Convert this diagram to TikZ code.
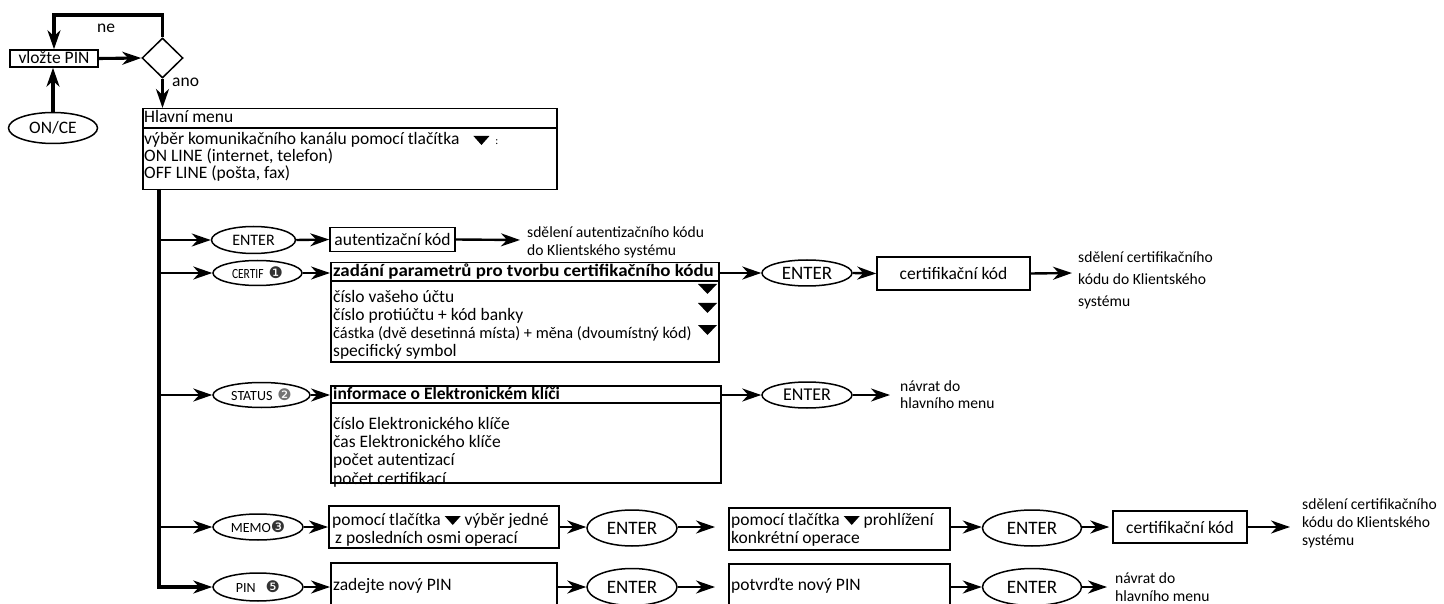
\documentclass[tikz,border=0pt]{standalone}
\usepackage{fontspec}
\setmainfont{Carlito}
\newfontfamily\symf{DejaVu Sans}
\usetikzlibrary{arrows.meta,shapes.geometric}
\newcommand\trid{\tikz[baseline=0pt,x=1pt,y=1pt]\fill (0,9) -- (16,9) -- (8,0) -- cycle;}
\newcommand\numc[2]{{\symf\fontsize{16}{16}\selectfont\color{black!#1}#2}}
\begin{document}
\begin{tikzpicture}[x=1pt,y=-1pt,
  box/.style={draw,line width=1.5pt,rectangle,inner sep=0pt,font=\fontsize{17.5}{18}\selectfont},
  oval/.style={draw,line width=1.5pt,ellipse,inner sep=0pt},
  arr/.style={line width=2.4pt,-{Stealth[length=19pt,width=13pt,inset=6pt]}},
  tarr/.style={arr,line width=3.1pt},
  txt/.style={anchor=base west,inner sep=0pt,font=\fontsize{17.5}{18}\selectfont},
  btxt/.style={anchor=base west,inner sep=0pt,font=\fontsize{17.5}{18}\selectfont\bfseries},
  note/.style={anchor=base west,inner sep=0pt,font=\fontsize{15.6}{16}\selectfont},
  lbl/.style={oval,font=\fontsize{14}{15}\selectfont},
  ent/.style={oval,font=\fontsize{19}{19}\selectfont}
]
\clip (0,0) rectangle (1444,604);
% ---------- top ----------
\node[box,minimum width=88,minimum height=17,text height=11pt,text depth=1pt] (pin) at (54,58.5) {vložte PIN};
\node[draw,diamond,line width=1.5pt,minimum width=41,minimum height=40,inner sep=0pt] (dec) at (162.5,58) {};
\node[oval,minimum width=89,minimum height=31,font=\fontsize{17.5}{18}\selectfont] (once) at (53,128) {ON/CE};
\coordinate (loop) at (162.5,15);
\draw[tarr] (pin.east) -- (dec.west);
\draw[tarr] (dec.north) -- (loop) -| (pin.north);
\draw[tarr] (once.north) -- (once.north |- pin.south);
\node[txt] (ne) at (97,33) {ne};
\node[txt] (ano) at (172,87) {ano};
% ---------- main menu ----------
\node[box,minimum width=414,minimum height=81,anchor=north west] (menu) at (142,108) {};
\draw[line width=1.5pt] (142,128) -- (556,128);
\draw[tarr] (dec.south) -- (dec.south |- menu.north);
\node[txt] (m0) at (144,123) {Hlavní menu};
\node[txt] (m1) at (144,145) {výběr komunikačního kanálu pomocí tlačítka\hspace{14pt}\trid\hspace{6pt}{\fontsize{11}{11}\selectfont :}};
\node[txt] (m2) at (144,162) {ON LINE (internet, telefon)};
\node[txt] (m3) at (144,179) {OFF LINE (pošta, fax)};
% ---------- trunk ----------
\coordinate (ttop) at (159,189);
\coordinate (b1) at (159,240);
\coordinate (b2) at (159,273);
\coordinate (b3) at (159,395);
\coordinate (b4) at (159,527);
% ---------- row 1 ----------
\node[oval,minimum width=84,minimum height=27,font=\fontsize{16}{16}\selectfont] (e1) at (253.5,240) {ENTER};
\node[box,minimum width=125,minimum height=24] (auth) at (392.5,239.5) {autentizační kód};
\coordinate (n1) at (520,240);
\draw[arr] (b1) -- (e1.west);
\draw[arr] (e1.east) -- (auth.west);
\draw[arr] (auth.east) -- (n1);
\node[note] (t1a) at (527,238) {sdělení autentizačního kódu};
\node[note] (t1b) at (527,256) {do Klientského systému};
% ---------- row 2 ----------
\node[lbl,minimum width=89,minimum height=25] (certif) at (257.5,273) {\scalebox{0.82}[1]{CERTIF}\hspace{5pt}\numc{80}{❶}};
\node[box,minimum width=388,minimum height=99,anchor=north west] (param) at (330,262) {};
\draw[line width=1.5pt] (330,281) -- (718,281);
\draw[arr] (b2) -- (certif.west);
\draw[arr] (certif.east) -- (certif -| param.west);
\node[btxt] (p0) at (333,277) {\scalebox{1.08}[1]{zadání parametrů pro tvorbu certifikačního kódu}};
\node[txt] (p1) at (333,302) {číslo vašeho účtu};
\node[txt] (p2) at (333,320) {číslo protiúčtu + kód banky};
\node[txt,font=\fontsize{16.3}{17}\selectfont] (p3) at (333,338) {částka (dvě desetinná místa) + měna (dvoumístný kód)};
\node[txt] (p4) at (333,356) {specifický symbol};
\fill (698,284) -- (717,284) -- (707.5,294) -- cycle;
\fill (698,303) -- (717,303) -- (707.5,313) -- cycle;
\fill (698,325) -- (717,325) -- (707.5,335) -- cycle;
\node[ent,minimum width=90,minimum height=26] (e2) at (807,273) {ENTER};
\node[box,minimum width=153,minimum height=33] (cert1) at (953.5,273.5) {certifikační kód};
\coordinate (n2) at (1072,273);
\draw[arr] (certif -| param.east) -- (e2.west);
\draw[arr] (e2.east) -- (cert1.west);
\draw[arr] (cert1.east) -- (n2);
\node[note] (t2a) at (1078,263) {sdělení certifikačního};
\node[note] (t2b) at (1078,285) {kódu do Klientského};
\node[note] (t2c) at (1078,306) {systému};
% ---------- row 3 ----------
\node[lbl,minimum width=97,minimum height=25] (status) at (261.5,395) {STATUS\hspace{5pt}\numc{55}{❷}};
\node[box,minimum width=390,minimum height=97,anchor=north west] (stat) at (330,385) {};
\draw[line width=1.5pt] (330,403) -- (720,403);
\draw[arr] (b3) -- (status.west);
\draw[arr] (status.east) -- (status -| stat.west);
\node[btxt] (s0) at (333,399) {informace o Elektronickém klíči};
\node[txt] (s1) at (333,429) {číslo Elektronického klíče};
\node[txt] (s2) at (333,447) {čas Elektronického klíče};
\node[txt] (s3) at (333,465) {počet autentizací};
\node[txt] (s4) at (333,484) {počet certifikací};
\node[ent,minimum width=90,minimum height=26,font=\fontsize{18}{18}\selectfont] (e3) at (807,395) {ENTER};
\coordinate (n3) at (890,395);
\draw[arr] (status -| stat.east) -- (e3.west);
\draw[arr] (e3.east) -- (n3);
\node[note] (t3a) at (900,391) {návrat do};
\node[note] (t3b) at (900,408) {hlavního menu};
% ---------- row 4 ----------
\node[lbl,minimum width=90,minimum height=26] (memo) at (258,527) {MEMO\numc{80}{❸}};
\node[box,minimum width=230,minimum height=42,anchor=north west] (mbox) at (328,505) {};
\draw[arr] (b4) -- (memo.west);
\draw[arr] (memo.east) -- (memo -| mbox.west);
\node[txt] (q1) at (332,525) {pomocí tlačítka \trid\ výběr jedné};
\node[txt] (q2) at (335,543) {z posledních osmi operací};
\node[ent,minimum width=90,minimum height=36] (e4) at (632,528) {ENTER};
\node[box,minimum width=221,minimum height=42,anchor=north west] (mbox2) at (728,507) {};
\draw[arr] (memo -| mbox.east) -- (memo -| e4.west);
\draw[arr,shorten >=13pt] (memo -| e4.east) -- (memo -| mbox2.west);
\node[txt] (r1) at (731,525) {pomocí tlačítka \trid\ prohlížení};
\node[txt] (r2) at (731,543) {konkrétní operace};
\node[ent,minimum width=99,minimum height=36] (e5) at (1032,528) {ENTER};
\node[box,minimum width=134,minimum height=32] (cert2) at (1180,527) {certifikační kód};
\coordinate (n4) at (1290,527);
\draw[arr] (memo -| mbox2.east) -- (memo -| e5.west);
\draw[arr,shorten >=3pt] (memo -| e5.east) -- (cert2.west);
\draw[arr] (cert2.east) -- (n4);
\node[note] (t4a) at (1302,509) {sdělení certifikačního};
\node[note] (t4b) at (1302,527) {kódu do Klientského};
\node[note] (t4c) at (1302,545) {systému};
% ---------- row 5 ----------
\node[lbl,minimum width=90,minimum height=28] (pinn) at (258,587) {PIN\hspace{10pt}\numc{80}{❺}};
\draw[tarr] (ttop) |- (pinn.west);
\node[box,minimum width=226,minimum height=60,anchor=north west] (zbox) at (330,562) {};
\draw[arr] (pinn.east) -- (pinn -| zbox.west);
\node[txt] (z1) at (333,590) {zadejte nový PIN};
\node[ent,minimum width=90,minimum height=37] (e6) at (632,587) {ENTER};
\node[box,minimum width=221,minimum height=60,anchor=north west] (vbox) at (728,563) {};
\draw[arr] (pinn -| zbox.east) -- (e6.west);
\draw[arr,shorten >=13pt] (e6.east) -- (e6 -| vbox.west);
\node[txt] (v1) at (731,590) {potvrďte nový PIN};
\node[ent,minimum width=99,minimum height=37] (e7) at (1032,587) {ENTER};
\coordinate (n5) at (1107,587);
\draw[arr] (e7 -| vbox.east) -- (e7.west);
\draw[arr] (e7.east) -- (n5);
\node[note] (t5a) at (1115,583) {návrat do};
\node[note] (t5b) at (1115,601) {hlavního menu};
\end{tikzpicture}
\end{document}
